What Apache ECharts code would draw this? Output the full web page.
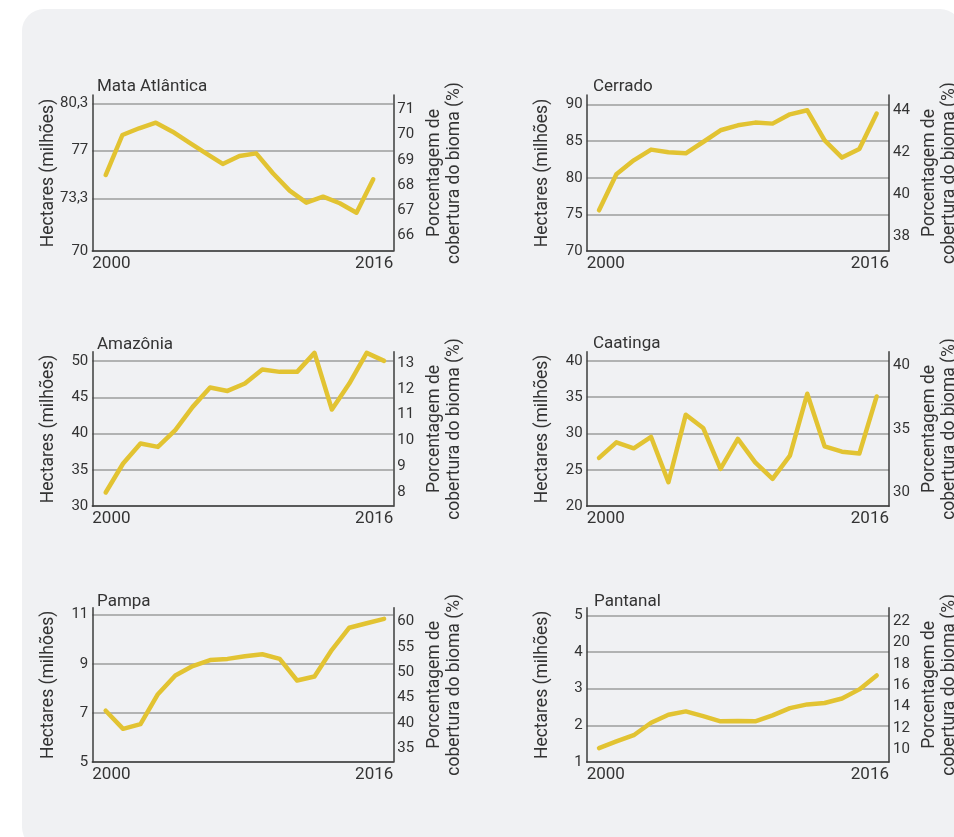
<!DOCTYPE html>
<html><head><meta charset="utf-8">
<script src="https://cdn.jsdelivr.net/npm/echarts@6/dist/echarts.min.js"></script>
<style>
html,body{margin:0;padding:0;background:#fff;width:954px;height:837px;overflow:hidden;}
#panel{position:absolute;left:22px;top:9px;width:940px;height:840px;border-radius:22px;background:#f0f1f3;}
#chart{position:absolute;left:0;top:0;width:954px;height:837px;}
</style></head><body><div id="panel"></div><div id="chart"></div>
<script>
const years = [2000,2001,2002,2003,2004,2005,2006,2007,2008,2009,2010,2011,2012,2013,2014,2015,2016];
const biomes = ['Mata Atlântica','Cerrado','Amazônia','Caatinga','Pampa','Pantanal'];
const xTickLabels = ['2000','2016'];

const mataAtlantica = [75.30,78.09,78.56,78.95,78.32,77.55,76.81,76.07,76.62,76.81,75.42,74.21,73.37,73.79,73.33,72.67,75.00];
const cerrado = [75.56,80.48,82.39,83.85,83.48,83.35,84.89,86.49,87.17,87.54,87.40,88.67,89.22,85.12,82.76,83.94,88.77];
const amazonia = [31.89,35.89,38.65,38.18,40.48,43.70,46.37,45.90,46.92,48.85,48.53,48.53,51.15,43.33,46.92,51.15,50.04];
const caatinga = [26.65,28.79,27.97,29.53,23.30,32.60,30.77,25.14,29.26,26.04,23.76,26.96,35.48,28.24,27.51,27.24,35.11];
const pampa = [7.09,6.35,6.54,7.76,8.52,8.91,9.15,9.20,9.31,9.39,9.20,8.32,8.48,9.57,10.47,10.65,10.83];
const pantanal = [1.38,1.56,1.73,2.07,2.29,2.38,2.25,2.11,2.12,2.11,2.27,2.47,2.57,2.61,2.73,2.98,3.36];

const leftTicks = [[70,73.65,77,80.3],[70,75,80,85,90],[30,35,40,45,50],[20,25,30,35,40],[5,7,9,11],[1,2,3,4,5]];
const leftTickLabels = [['70','73,3','77','80,3'],['70','75','80','85','90'],['30','35','40','45','50'],['20','25','30','35','40'],['5','7','9','11'],['1','2','3','4','5']];
const rightTicks = [[66,67,68,69,70,71],[38,40,42,44],[8,9,10,11,12,13],[30,35,40],[35,40,45,50,55,60],[10,12,14,16,18,20,22]];

const seriesData = [mataAtlantica,cerrado,amazonia,caatinga,pampa,pantanal];

// layout (pixels / axis extents)
const colLeft = [92.3, 586.7], colRight = [393.3, 889];
const rowTop = [95, 351.7, 607.7], rowBottom = [251, 506.2, 762];
const leftRange = [[70,80.88],[70,91.31],[30,51.31],[20,41.27],[5,11.285],[1,5.207]];
const rightRange = [[65.395,71.566],[37.32,44.75],[7.443,13.452],[28.894,41.106],[32.24,62.76],[8.81,23.247]];
const xRange = [[1999.2,2017.2],[1999.29,2016.71],[1999.23,2016.53],[1999.29,2016.71],[1999.23,2016.53],[1999.29,2016.71]];
const titlePos = [[97,78],[593,78],[97,336],[593,335],[97,593],[594,593]];

const W = 954, H = 837;
const txt = '#333333', font = 'Roboto';
function nearestLabel(ticks, labels){
  return function(v){ let bi=0, bd=Infinity; ticks.forEach((t,i)=>{const d=Math.abs(t-v); if(d<bd){bd=d;bi=i;}}); return labels[bi]; };
}
const grids=[], xAxes=[], yAxes=[], series=[], titles=[];
for(let i=0;i<6;i++){
  const c=i%2, r=Math.floor(i/2);
  grids.push({left:colLeft[c], top:rowTop[r], width:colRight[c]-colLeft[c], height:rowBottom[r]-rowTop[r], containLabel:false, outerBoundsMode:'none'});
  const xr = xRange[i];
  xAxes.push({type:'value', gridIndex:i, min:xr[0], max:xr[1],
    axisLine:{show:true, lineStyle:{color:'#3c3c3c', width:1.5}},
    axisTick:{show:false, customValues:[xr[0],xr[1]]},
    splitLine:{show:false},
    axisLabel:{customValues:[xr[0],xr[1]], color:txt, fontFamily:font, fontSize:17, margin:4,
      alignMinLabel:'left', alignMaxLabel:'right',
      formatter:(v)=> (Math.abs(v-xr[0])<Math.abs(v-xr[1]) ? xTickLabels[0] : xTickLabels[1])}
  });
  const lr = leftRange[i];
  yAxes.push({type:'value', gridIndex:i, position:'left', min:lr[0], max:lr[1],
    name:'Hectares (milhões)', nameLocation:'middle', nameRotate:90, nameGap:35, nameMoveOverlap:false,
    nameTextStyle:{color:txt, fontFamily:font, fontSize:17.5},
    axisLine:{show:true, lineStyle:{color:'#3c3c3c', width:1.5}},
    axisTick:{show:false, customValues:leftTicks[i]},
    splitLine:{show:true, lineStyle:{color:'#9c9c9c', width:1.5}},
    axisLabel:{customValues:leftTicks[i], color:txt, fontFamily:font, fontSize:15, margin:4,
      formatter:nearestLabel(leftTicks[i], leftTickLabels[i])}
  });
  const rr = rightRange[i];
  yAxes.push({type:'value', gridIndex:i, position:'right', min:rr[0], max:rr[1],
    name:'Porcentagem de\ncobertura do bioma (%)', nameLocation:'middle', nameRotate:90, nameGap:31, nameMoveOverlap:false,
    nameTextStyle:{color:txt, fontFamily:font, fontSize:17.5, lineHeight:20},
    axisLine:{show:true, lineStyle:{color:'#3c3c3c', width:1.5}},
    axisTick:{show:false, customValues:rightTicks[i]},
    splitLine:{show:false},
    axisLabel:{customValues:rightTicks[i], color:txt, fontFamily:font, fontSize:15, margin:4,
      formatter:(v)=>String(v)}
  });
  series.push({type:'line', xAxisIndex:i, yAxisIndex:2*i, symbol:'none', silent:true,
    lineStyle:{color:'#e2c332', width:4.5, cap:'round', join:'round'},
    data: years.map((y,k)=>[y, seriesData[i][k]])});
  titles.push({text:biomes[i], left:titlePos[i][0], top:titlePos[i][1], padding:0,
    textStyle:{color:txt, fontFamily:font, fontSize:17, fontWeight:'normal'}});
}
const chart = echarts.init(document.getElementById('chart'), null, {renderer:'canvas', width:W, height:H});
chart.setOption({animation:false, backgroundColor:'transparent', title:titles, grid:grids, xAxis:xAxes, yAxis:yAxes, series:series});
</script></body></html>
